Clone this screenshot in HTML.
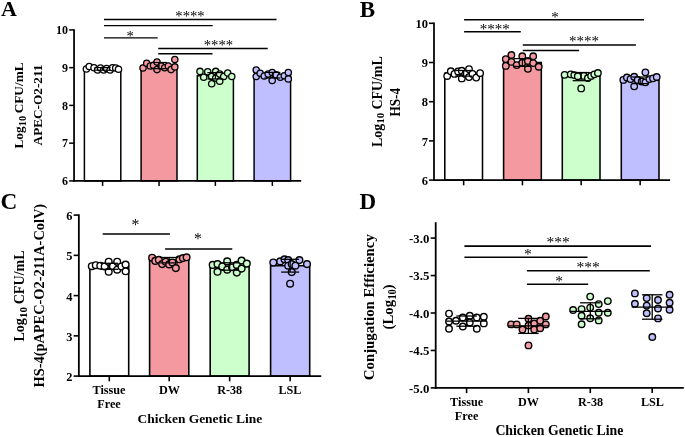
<!DOCTYPE html>
<html><head><meta charset="utf-8"><title>Figure</title>
<style>
html,body{margin:0;padding:0;background:#fff;}
svg{display:block;will-change:transform;font-family:"Liberation Serif","Times New Roman",serif;fill:#000;}
</style></head><body>
<svg width="685" height="437" viewBox="0 0 685 437">
<rect width="685" height="437" fill="#fff"/>
<text x="1.10" y="16.10" font-size="22" font-weight="bold" text-anchor="start" >A</text>
<rect x="84.40" y="68.90" width="36.40" height="112.00" fill="#FFFFFF" stroke="#000" stroke-width="1.5"/>
<rect x="141.10" y="65.60" width="35.90" height="115.30" fill="#F4999F" stroke="#000" stroke-width="1.5"/>
<rect x="197.30" y="75.80" width="36.10" height="105.10" fill="#CCFFCC" stroke="#000" stroke-width="1.5"/>
<rect x="254.10" y="75.20" width="36.50" height="105.70" fill="#BFBFFF" stroke="#000" stroke-width="1.5"/>
<line x1="74.05" y1="29.15" x2="74.05" y2="181.75" stroke="#000" stroke-width="1.75" stroke-linecap="butt"/>
<line x1="73.15" y1="180.90" x2="301.20" y2="180.90" stroke="#000" stroke-width="1.65" stroke-linecap="butt"/>
<line x1="69.15" y1="180.90" x2="74.05" y2="180.90" stroke="#000" stroke-width="1.5" stroke-linecap="butt"/>
<text x="68.00" y="185.10" font-size="12" font-weight="bold" text-anchor="end" >6</text>
<line x1="69.15" y1="143.15" x2="74.05" y2="143.15" stroke="#000" stroke-width="1.5" stroke-linecap="butt"/>
<text x="68.00" y="147.35" font-size="12" font-weight="bold" text-anchor="end" >7</text>
<line x1="69.15" y1="105.40" x2="74.05" y2="105.40" stroke="#000" stroke-width="1.5" stroke-linecap="butt"/>
<text x="68.00" y="109.60" font-size="12" font-weight="bold" text-anchor="end" >8</text>
<line x1="69.15" y1="67.65" x2="74.05" y2="67.65" stroke="#000" stroke-width="1.5" stroke-linecap="butt"/>
<text x="68.00" y="71.85" font-size="12" font-weight="bold" text-anchor="end" >9</text>
<line x1="69.15" y1="29.90" x2="74.05" y2="29.90" stroke="#000" stroke-width="1.5" stroke-linecap="butt"/>
<text x="68.00" y="34.10" font-size="12" font-weight="bold" text-anchor="end" >10</text>
<line x1="102.60" y1="180.90" x2="102.60" y2="185.90" stroke="#000" stroke-width="1.5" stroke-linecap="butt"/>
<line x1="159.05" y1="180.90" x2="159.05" y2="185.90" stroke="#000" stroke-width="1.5" stroke-linecap="butt"/>
<line x1="215.35" y1="180.90" x2="215.35" y2="185.90" stroke="#000" stroke-width="1.5" stroke-linecap="butt"/>
<line x1="272.35" y1="180.90" x2="272.35" y2="185.90" stroke="#000" stroke-width="1.5" stroke-linecap="butt"/>
<circle cx="86.40" cy="69.00" r="3.15" fill="#FFFFFF" stroke="#000" stroke-width="1.3"/>
<circle cx="89.20" cy="66.50" r="3.15" fill="#FFFFFF" stroke="#000" stroke-width="1.3"/>
<circle cx="94.00" cy="67.70" r="3.15" fill="#FFFFFF" stroke="#000" stroke-width="1.3"/>
<circle cx="97.60" cy="70.00" r="3.15" fill="#FFFFFF" stroke="#000" stroke-width="1.3"/>
<circle cx="100.50" cy="68.00" r="3.15" fill="#FFFFFF" stroke="#000" stroke-width="1.3"/>
<circle cx="103.70" cy="70.00" r="3.15" fill="#FFFFFF" stroke="#000" stroke-width="1.3"/>
<circle cx="106.60" cy="68.50" r="3.15" fill="#FFFFFF" stroke="#000" stroke-width="1.3"/>
<circle cx="110.10" cy="70.00" r="3.15" fill="#FFFFFF" stroke="#000" stroke-width="1.3"/>
<circle cx="112.50" cy="67.70" r="3.15" fill="#FFFFFF" stroke="#000" stroke-width="1.3"/>
<circle cx="115.70" cy="68.00" r="3.15" fill="#FFFFFF" stroke="#000" stroke-width="1.3"/>
<circle cx="118.50" cy="69.30" r="3.15" fill="#FFFFFF" stroke="#000" stroke-width="1.3"/>
<line x1="102.60" y1="67.60" x2="102.60" y2="70.20" stroke="#000" stroke-width="1.2" stroke-linecap="butt"/>
<line x1="94.60" y1="67.60" x2="110.60" y2="67.60" stroke="#000" stroke-width="1.2" stroke-linecap="butt"/>
<line x1="94.60" y1="70.20" x2="110.60" y2="70.20" stroke="#000" stroke-width="1.2" stroke-linecap="butt"/>
<circle cx="143.00" cy="68.00" r="3.15" fill="#F4999F" stroke="#000" stroke-width="1.3"/>
<circle cx="146.70" cy="63.30" r="3.15" fill="#F4999F" stroke="#000" stroke-width="1.3"/>
<circle cx="150.30" cy="66.00" r="3.15" fill="#F4999F" stroke="#000" stroke-width="1.3"/>
<circle cx="153.50" cy="65.30" r="3.15" fill="#F4999F" stroke="#000" stroke-width="1.3"/>
<circle cx="157.00" cy="62.00" r="3.15" fill="#F4999F" stroke="#000" stroke-width="1.3"/>
<circle cx="157.00" cy="69.60" r="3.15" fill="#F4999F" stroke="#000" stroke-width="1.3"/>
<circle cx="161.20" cy="66.00" r="3.15" fill="#F4999F" stroke="#000" stroke-width="1.3"/>
<circle cx="164.70" cy="67.70" r="3.15" fill="#F4999F" stroke="#000" stroke-width="1.3"/>
<circle cx="168.30" cy="66.00" r="3.15" fill="#F4999F" stroke="#000" stroke-width="1.3"/>
<circle cx="171.10" cy="69.60" r="3.15" fill="#F4999F" stroke="#000" stroke-width="1.3"/>
<circle cx="174.80" cy="59.60" r="3.15" fill="#F4999F" stroke="#000" stroke-width="1.3"/>
<circle cx="174.80" cy="66.90" r="3.15" fill="#F4999F" stroke="#000" stroke-width="1.3"/>
<line x1="159.05" y1="62.50" x2="159.05" y2="68.70" stroke="#000" stroke-width="1.2" stroke-linecap="butt"/>
<line x1="151.05" y1="62.50" x2="167.05" y2="62.50" stroke="#000" stroke-width="1.2" stroke-linecap="butt"/>
<line x1="151.05" y1="68.70" x2="167.05" y2="68.70" stroke="#000" stroke-width="1.2" stroke-linecap="butt"/>
<circle cx="200.00" cy="71.40" r="3.15" fill="#CCFFCC" stroke="#000" stroke-width="1.3"/>
<circle cx="203.70" cy="77.30" r="3.15" fill="#CCFFCC" stroke="#000" stroke-width="1.3"/>
<circle cx="207.70" cy="71.70" r="3.15" fill="#CCFFCC" stroke="#000" stroke-width="1.3"/>
<circle cx="211.70" cy="76.50" r="3.15" fill="#CCFFCC" stroke="#000" stroke-width="1.3"/>
<circle cx="211.70" cy="83.70" r="3.15" fill="#CCFFCC" stroke="#000" stroke-width="1.3"/>
<circle cx="215.70" cy="71.40" r="3.15" fill="#CCFFCC" stroke="#000" stroke-width="1.3"/>
<circle cx="215.70" cy="78.10" r="3.15" fill="#CCFFCC" stroke="#000" stroke-width="1.3"/>
<circle cx="219.70" cy="74.10" r="3.15" fill="#CCFFCC" stroke="#000" stroke-width="1.3"/>
<circle cx="219.70" cy="81.30" r="3.15" fill="#CCFFCC" stroke="#000" stroke-width="1.3"/>
<circle cx="223.70" cy="76.50" r="3.15" fill="#CCFFCC" stroke="#000" stroke-width="1.3"/>
<circle cx="227.70" cy="73.00" r="3.15" fill="#CCFFCC" stroke="#000" stroke-width="1.3"/>
<circle cx="231.80" cy="76.50" r="3.15" fill="#CCFFCC" stroke="#000" stroke-width="1.3"/>
<line x1="215.35" y1="72.60" x2="215.35" y2="79.00" stroke="#000" stroke-width="1.2" stroke-linecap="butt"/>
<line x1="207.35" y1="72.60" x2="223.35" y2="72.60" stroke="#000" stroke-width="1.2" stroke-linecap="butt"/>
<line x1="207.35" y1="79.00" x2="223.35" y2="79.00" stroke="#000" stroke-width="1.2" stroke-linecap="butt"/>
<circle cx="256.20" cy="70.00" r="3.15" fill="#BFBFFF" stroke="#000" stroke-width="1.3"/>
<circle cx="256.20" cy="76.50" r="3.15" fill="#BFBFFF" stroke="#000" stroke-width="1.3"/>
<circle cx="260.20" cy="73.30" r="3.15" fill="#BFBFFF" stroke="#000" stroke-width="1.3"/>
<circle cx="264.20" cy="76.00" r="3.15" fill="#BFBFFF" stroke="#000" stroke-width="1.3"/>
<circle cx="268.20" cy="74.10" r="3.15" fill="#BFBFFF" stroke="#000" stroke-width="1.3"/>
<circle cx="272.20" cy="72.50" r="3.15" fill="#BFBFFF" stroke="#000" stroke-width="1.3"/>
<circle cx="272.20" cy="80.50" r="3.15" fill="#BFBFFF" stroke="#000" stroke-width="1.3"/>
<circle cx="276.20" cy="74.90" r="3.15" fill="#BFBFFF" stroke="#000" stroke-width="1.3"/>
<circle cx="280.30" cy="77.30" r="3.15" fill="#BFBFFF" stroke="#000" stroke-width="1.3"/>
<circle cx="284.30" cy="75.70" r="3.15" fill="#BFBFFF" stroke="#000" stroke-width="1.3"/>
<circle cx="288.30" cy="72.50" r="3.15" fill="#BFBFFF" stroke="#000" stroke-width="1.3"/>
<circle cx="288.30" cy="78.90" r="3.15" fill="#BFBFFF" stroke="#000" stroke-width="1.3"/>
<line x1="272.35" y1="72.40" x2="272.35" y2="78.00" stroke="#000" stroke-width="1.2" stroke-linecap="butt"/>
<line x1="264.35" y1="72.40" x2="280.35" y2="72.40" stroke="#000" stroke-width="1.2" stroke-linecap="butt"/>
<line x1="264.35" y1="78.00" x2="280.35" y2="78.00" stroke="#000" stroke-width="1.2" stroke-linecap="butt"/>
<line x1="104.00" y1="19.50" x2="276.50" y2="19.50" stroke="#000" stroke-width="1.4" stroke-linecap="butt"/>
<line x1="104.00" y1="25.60" x2="212.70" y2="25.60" stroke="#000" stroke-width="1.4" stroke-linecap="butt"/>
<line x1="104.00" y1="37.90" x2="157.70" y2="37.90" stroke="#000" stroke-width="1.4" stroke-linecap="butt"/>
<line x1="158.20" y1="48.50" x2="267.70" y2="48.50" stroke="#000" stroke-width="1.4" stroke-linecap="butt"/>
<line x1="158.20" y1="53.80" x2="212.50" y2="53.80" stroke="#000" stroke-width="1.4" stroke-linecap="butt"/>
<text x="190.00" y="21.38" font-size="14.7" font-weight="normal" text-anchor="middle" >****</text>
<text x="218.40" y="50.28" font-size="14.7" font-weight="normal" text-anchor="middle" >****</text>
<text x="130.10" y="40.88" font-size="14.7" font-weight="normal" text-anchor="middle" >*</text>
<text transform="translate(23.00,148.50) rotate(-90)" font-size="13.3" font-weight="bold" text-anchor="start" >Log</text>
<text transform="translate(25.66,126.16) rotate(-90)" font-size="10.374" font-weight="bold" text-anchor="start" >10</text>
<text transform="translate(23.00,62.40) rotate(-90)" font-size="13.3" font-weight="bold" text-anchor="end" >CFU/mL</text>
<text transform="translate(41.50,105.00) rotate(-90)" font-size="13.3" font-weight="bold" text-anchor="middle" textLength="80.8" lengthAdjust="spacingAndGlyphs">APEC-O2-211</text>
<text x="359.70" y="16.70" font-size="23" font-weight="bold" text-anchor="start" >B</text>
<rect x="444.80" y="73.30" width="37.70" height="106.80" fill="#FFFFFF" stroke="#000" stroke-width="1.55"/>
<rect x="503.60" y="62.50" width="37.70" height="117.60" fill="#F4999F" stroke="#000" stroke-width="1.55"/>
<rect x="562.30" y="76.20" width="37.70" height="103.90" fill="#CCFFCC" stroke="#000" stroke-width="1.55"/>
<rect x="621.30" y="80.30" width="37.70" height="99.80" fill="#BFBFFF" stroke="#000" stroke-width="1.55"/>
<line x1="434.00" y1="22.55" x2="434.00" y2="180.95" stroke="#000" stroke-width="1.75" stroke-linecap="butt"/>
<line x1="433.10" y1="180.10" x2="670.10" y2="180.10" stroke="#000" stroke-width="1.7" stroke-linecap="butt"/>
<line x1="429.00" y1="180.10" x2="434.00" y2="180.10" stroke="#000" stroke-width="1.55" stroke-linecap="butt"/>
<text x="428.00" y="184.70" font-size="12.5" font-weight="bold" text-anchor="end" >6</text>
<line x1="429.00" y1="140.90" x2="434.00" y2="140.90" stroke="#000" stroke-width="1.55" stroke-linecap="butt"/>
<text x="428.00" y="145.50" font-size="12.5" font-weight="bold" text-anchor="end" >7</text>
<line x1="429.00" y1="101.70" x2="434.00" y2="101.70" stroke="#000" stroke-width="1.55" stroke-linecap="butt"/>
<text x="428.00" y="106.30" font-size="12.5" font-weight="bold" text-anchor="end" >8</text>
<line x1="429.00" y1="62.50" x2="434.00" y2="62.50" stroke="#000" stroke-width="1.55" stroke-linecap="butt"/>
<text x="428.00" y="67.10" font-size="12.5" font-weight="bold" text-anchor="end" >9</text>
<line x1="429.00" y1="23.30" x2="434.00" y2="23.30" stroke="#000" stroke-width="1.55" stroke-linecap="butt"/>
<text x="428.00" y="27.90" font-size="12.5" font-weight="bold" text-anchor="end" >10</text>
<line x1="463.65" y1="180.10" x2="463.65" y2="185.30" stroke="#000" stroke-width="1.55" stroke-linecap="butt"/>
<line x1="522.45" y1="180.10" x2="522.45" y2="185.30" stroke="#000" stroke-width="1.55" stroke-linecap="butt"/>
<line x1="581.15" y1="180.10" x2="581.15" y2="185.30" stroke="#000" stroke-width="1.55" stroke-linecap="butt"/>
<line x1="640.15" y1="180.10" x2="640.15" y2="185.30" stroke="#000" stroke-width="1.55" stroke-linecap="butt"/>
<circle cx="447.20" cy="76.00" r="3.25" fill="#FFFFFF" stroke="#000" stroke-width="1.35"/>
<circle cx="450.80" cy="71.20" r="3.25" fill="#FFFFFF" stroke="#000" stroke-width="1.35"/>
<circle cx="454.50" cy="73.90" r="3.25" fill="#FFFFFF" stroke="#000" stroke-width="1.35"/>
<circle cx="458.10" cy="71.50" r="3.25" fill="#FFFFFF" stroke="#000" stroke-width="1.35"/>
<circle cx="461.80" cy="70.70" r="3.25" fill="#FFFFFF" stroke="#000" stroke-width="1.35"/>
<circle cx="461.80" cy="78.40" r="3.25" fill="#FFFFFF" stroke="#000" stroke-width="1.35"/>
<circle cx="465.30" cy="73.90" r="3.25" fill="#FFFFFF" stroke="#000" stroke-width="1.35"/>
<circle cx="469.00" cy="69.10" r="3.25" fill="#FFFFFF" stroke="#000" stroke-width="1.35"/>
<circle cx="469.00" cy="77.10" r="3.25" fill="#FFFFFF" stroke="#000" stroke-width="1.35"/>
<circle cx="472.50" cy="73.90" r="3.25" fill="#FFFFFF" stroke="#000" stroke-width="1.35"/>
<circle cx="476.20" cy="77.60" r="3.25" fill="#FFFFFF" stroke="#000" stroke-width="1.35"/>
<circle cx="480.10" cy="73.10" r="3.25" fill="#FFFFFF" stroke="#000" stroke-width="1.35"/>
<line x1="463.65" y1="70.50" x2="463.65" y2="76.10" stroke="#000" stroke-width="1.25" stroke-linecap="butt"/>
<line x1="455.15" y1="70.50" x2="472.15" y2="70.50" stroke="#000" stroke-width="1.25" stroke-linecap="butt"/>
<line x1="455.15" y1="76.10" x2="472.15" y2="76.10" stroke="#000" stroke-width="1.25" stroke-linecap="butt"/>
<circle cx="505.80" cy="59.10" r="3.25" fill="#F4999F" stroke="#000" stroke-width="1.35"/>
<circle cx="505.80" cy="65.90" r="3.25" fill="#F4999F" stroke="#000" stroke-width="1.35"/>
<circle cx="511.40" cy="55.00" r="3.25" fill="#F4999F" stroke="#000" stroke-width="1.35"/>
<circle cx="511.40" cy="61.90" r="3.25" fill="#F4999F" stroke="#000" stroke-width="1.35"/>
<circle cx="516.70" cy="65.10" r="3.25" fill="#F4999F" stroke="#000" stroke-width="1.35"/>
<circle cx="522.30" cy="56.20" r="3.25" fill="#F4999F" stroke="#000" stroke-width="1.35"/>
<circle cx="522.30" cy="62.70" r="3.25" fill="#F4999F" stroke="#000" stroke-width="1.35"/>
<circle cx="527.90" cy="61.00" r="3.25" fill="#F4999F" stroke="#000" stroke-width="1.35"/>
<circle cx="527.90" cy="68.80" r="3.25" fill="#F4999F" stroke="#000" stroke-width="1.35"/>
<circle cx="533.20" cy="56.20" r="3.25" fill="#F4999F" stroke="#000" stroke-width="1.35"/>
<circle cx="533.20" cy="63.10" r="3.25" fill="#F4999F" stroke="#000" stroke-width="1.35"/>
<circle cx="538.70" cy="66.70" r="3.25" fill="#F4999F" stroke="#000" stroke-width="1.35"/>
<line x1="522.45" y1="58.60" x2="522.45" y2="66.40" stroke="#000" stroke-width="1.25" stroke-linecap="butt"/>
<line x1="513.95" y1="58.60" x2="530.95" y2="58.60" stroke="#000" stroke-width="1.25" stroke-linecap="butt"/>
<line x1="513.95" y1="66.40" x2="530.95" y2="66.40" stroke="#000" stroke-width="1.25" stroke-linecap="butt"/>
<circle cx="564.60" cy="74.80" r="3.25" fill="#CCFFCC" stroke="#000" stroke-width="1.35"/>
<circle cx="570.70" cy="74.30" r="3.25" fill="#CCFFCC" stroke="#000" stroke-width="1.35"/>
<circle cx="574.30" cy="75.10" r="3.25" fill="#CCFFCC" stroke="#000" stroke-width="1.35"/>
<circle cx="577.80" cy="76.20" r="3.25" fill="#CCFFCC" stroke="#000" stroke-width="1.35"/>
<circle cx="581.20" cy="88.40" r="3.25" fill="#CCFFCC" stroke="#000" stroke-width="1.35"/>
<circle cx="583.90" cy="75.90" r="3.25" fill="#CCFFCC" stroke="#000" stroke-width="1.35"/>
<circle cx="587.90" cy="78.00" r="3.25" fill="#CCFFCC" stroke="#000" stroke-width="1.35"/>
<circle cx="591.10" cy="75.90" r="3.25" fill="#CCFFCC" stroke="#000" stroke-width="1.35"/>
<circle cx="594.30" cy="74.30" r="3.25" fill="#CCFFCC" stroke="#000" stroke-width="1.35"/>
<circle cx="597.90" cy="73.00" r="3.25" fill="#CCFFCC" stroke="#000" stroke-width="1.35"/>
<line x1="581.15" y1="72.50" x2="581.15" y2="80.70" stroke="#000" stroke-width="1.25" stroke-linecap="butt"/>
<line x1="572.65" y1="72.50" x2="589.65" y2="72.50" stroke="#000" stroke-width="1.25" stroke-linecap="butt"/>
<line x1="572.65" y1="80.70" x2="589.65" y2="80.70" stroke="#000" stroke-width="1.25" stroke-linecap="butt"/>
<circle cx="623.30" cy="79.90" r="3.25" fill="#BFBFFF" stroke="#000" stroke-width="1.35"/>
<circle cx="626.90" cy="77.50" r="3.25" fill="#BFBFFF" stroke="#000" stroke-width="1.35"/>
<circle cx="630.50" cy="79.10" r="3.25" fill="#BFBFFF" stroke="#000" stroke-width="1.35"/>
<circle cx="634.20" cy="76.70" r="3.25" fill="#BFBFFF" stroke="#000" stroke-width="1.35"/>
<circle cx="634.20" cy="86.30" r="3.25" fill="#BFBFFF" stroke="#000" stroke-width="1.35"/>
<circle cx="637.70" cy="79.90" r="3.25" fill="#BFBFFF" stroke="#000" stroke-width="1.35"/>
<circle cx="641.70" cy="81.50" r="3.25" fill="#BFBFFF" stroke="#000" stroke-width="1.35"/>
<circle cx="645.40" cy="72.30" r="3.25" fill="#BFBFFF" stroke="#000" stroke-width="1.35"/>
<circle cx="645.40" cy="82.30" r="3.25" fill="#BFBFFF" stroke="#000" stroke-width="1.35"/>
<circle cx="649.40" cy="79.10" r="3.25" fill="#BFBFFF" stroke="#000" stroke-width="1.35"/>
<circle cx="653.00" cy="78.30" r="3.25" fill="#BFBFFF" stroke="#000" stroke-width="1.35"/>
<circle cx="656.70" cy="77.00" r="3.25" fill="#BFBFFF" stroke="#000" stroke-width="1.35"/>
<line x1="640.15" y1="77.00" x2="640.15" y2="83.60" stroke="#000" stroke-width="1.25" stroke-linecap="butt"/>
<line x1="631.65" y1="77.00" x2="648.65" y2="77.00" stroke="#000" stroke-width="1.25" stroke-linecap="butt"/>
<line x1="631.65" y1="83.60" x2="648.65" y2="83.60" stroke="#000" stroke-width="1.25" stroke-linecap="butt"/>
<line x1="464.10" y1="19.75" x2="644.00" y2="19.75" stroke="#000" stroke-width="1.5" stroke-linecap="butt"/>
<line x1="464.10" y1="31.75" x2="520.80" y2="31.75" stroke="#000" stroke-width="1.5" stroke-linecap="butt"/>
<line x1="522.80" y1="45.00" x2="635.90" y2="45.00" stroke="#000" stroke-width="1.5" stroke-linecap="butt"/>
<line x1="522.80" y1="50.60" x2="579.10" y2="50.60" stroke="#000" stroke-width="1.5" stroke-linecap="butt"/>
<text x="555.10" y="22.07" font-size="15" font-weight="normal" text-anchor="middle" >*</text>
<text x="494.85" y="34.27" font-size="15" font-weight="normal" text-anchor="middle" >****</text>
<text x="583.90" y="46.33" font-size="15" font-weight="normal" text-anchor="middle" >****</text>
<text transform="translate(381.50,146.90) rotate(-90)" font-size="13.9" font-weight="bold" text-anchor="start" >Log</text>
<text transform="translate(384.28,123.55) rotate(-90)" font-size="10.842" font-weight="bold" text-anchor="start" >10</text>
<text transform="translate(381.50,56.30) rotate(-90)" font-size="13.9" font-weight="bold" text-anchor="end" >CFU/mL</text>
<text transform="translate(400.40,102.20) rotate(-90)" font-size="13.9" font-weight="bold" text-anchor="middle" textLength="28.6" lengthAdjust="spacingAndGlyphs">HS-4</text>
<text x="0.50" y="209.30" font-size="23.2" font-weight="bold" text-anchor="start" >C</text>
<rect x="89.90" y="266.30" width="38.80" height="109.80" fill="#FFFFFF" stroke="#000" stroke-width="1.6"/>
<rect x="149.60" y="260.20" width="39.20" height="115.90" fill="#F4999F" stroke="#000" stroke-width="1.6"/>
<rect x="210.20" y="266.50" width="38.90" height="109.60" fill="#CCFFCC" stroke="#000" stroke-width="1.6"/>
<rect x="270.60" y="265.70" width="39.10" height="110.40" fill="#BFBFFF" stroke="#000" stroke-width="1.6"/>
<line x1="78.85" y1="214.30" x2="78.85" y2="376.95" stroke="#000" stroke-width="1.8" stroke-linecap="butt"/>
<line x1="77.95" y1="376.10" x2="321.20" y2="376.10" stroke="#000" stroke-width="1.75" stroke-linecap="butt"/>
<line x1="73.65" y1="376.10" x2="78.85" y2="376.10" stroke="#000" stroke-width="1.6" stroke-linecap="butt"/>
<text x="72.40" y="381.10" font-size="12.4" font-weight="bold" text-anchor="end" >2</text>
<line x1="73.65" y1="335.85" x2="78.85" y2="335.85" stroke="#000" stroke-width="1.6" stroke-linecap="butt"/>
<text x="72.40" y="340.85" font-size="12.4" font-weight="bold" text-anchor="end" >3</text>
<line x1="73.65" y1="295.60" x2="78.85" y2="295.60" stroke="#000" stroke-width="1.6" stroke-linecap="butt"/>
<text x="72.40" y="300.60" font-size="12.4" font-weight="bold" text-anchor="end" >4</text>
<line x1="73.65" y1="255.35" x2="78.85" y2="255.35" stroke="#000" stroke-width="1.6" stroke-linecap="butt"/>
<text x="72.40" y="260.35" font-size="12.4" font-weight="bold" text-anchor="end" >5</text>
<line x1="73.65" y1="215.10" x2="78.85" y2="215.10" stroke="#000" stroke-width="1.6" stroke-linecap="butt"/>
<text x="72.40" y="220.10" font-size="12.4" font-weight="bold" text-anchor="end" >6</text>
<line x1="109.30" y1="376.10" x2="109.30" y2="381.30" stroke="#000" stroke-width="1.6" stroke-linecap="butt"/>
<line x1="169.20" y1="376.10" x2="169.20" y2="381.30" stroke="#000" stroke-width="1.6" stroke-linecap="butt"/>
<line x1="229.65" y1="376.10" x2="229.65" y2="381.30" stroke="#000" stroke-width="1.6" stroke-linecap="butt"/>
<line x1="290.15" y1="376.10" x2="290.15" y2="381.30" stroke="#000" stroke-width="1.6" stroke-linecap="butt"/>
<circle cx="91.80" cy="266.20" r="3.35" fill="#FFFFFF" stroke="#000" stroke-width="1.4"/>
<circle cx="95.80" cy="265.20" r="3.35" fill="#FFFFFF" stroke="#000" stroke-width="1.4"/>
<circle cx="100.30" cy="265.70" r="3.35" fill="#FFFFFF" stroke="#000" stroke-width="1.4"/>
<circle cx="104.70" cy="266.50" r="3.35" fill="#FFFFFF" stroke="#000" stroke-width="1.4"/>
<circle cx="108.70" cy="261.70" r="3.35" fill="#FFFFFF" stroke="#000" stroke-width="1.4"/>
<circle cx="108.70" cy="271.80" r="3.35" fill="#FFFFFF" stroke="#000" stroke-width="1.4"/>
<circle cx="113.00" cy="266.20" r="3.35" fill="#FFFFFF" stroke="#000" stroke-width="1.4"/>
<circle cx="117.20" cy="261.70" r="3.35" fill="#FFFFFF" stroke="#000" stroke-width="1.4"/>
<circle cx="117.20" cy="269.70" r="3.35" fill="#FFFFFF" stroke="#000" stroke-width="1.4"/>
<circle cx="121.50" cy="266.50" r="3.35" fill="#FFFFFF" stroke="#000" stroke-width="1.4"/>
<circle cx="125.60" cy="264.60" r="3.35" fill="#FFFFFF" stroke="#000" stroke-width="1.4"/>
<circle cx="125.60" cy="271.30" r="3.35" fill="#FFFFFF" stroke="#000" stroke-width="1.4"/>
<line x1="109.30" y1="263.30" x2="109.30" y2="269.30" stroke="#000" stroke-width="1.3" stroke-linecap="butt"/>
<line x1="100.30" y1="263.30" x2="118.30" y2="263.30" stroke="#000" stroke-width="1.3" stroke-linecap="butt"/>
<line x1="100.30" y1="269.30" x2="118.30" y2="269.30" stroke="#000" stroke-width="1.3" stroke-linecap="butt"/>
<circle cx="152.10" cy="257.70" r="3.35" fill="#F4999F" stroke="#000" stroke-width="1.4"/>
<circle cx="155.30" cy="260.90" r="3.35" fill="#F4999F" stroke="#000" stroke-width="1.4"/>
<circle cx="158.80" cy="259.80" r="3.35" fill="#F4999F" stroke="#000" stroke-width="1.4"/>
<circle cx="162.20" cy="264.10" r="3.35" fill="#F4999F" stroke="#000" stroke-width="1.4"/>
<circle cx="165.70" cy="261.70" r="3.35" fill="#F4999F" stroke="#000" stroke-width="1.4"/>
<circle cx="169.20" cy="264.40" r="3.35" fill="#F4999F" stroke="#000" stroke-width="1.4"/>
<circle cx="172.40" cy="262.50" r="3.35" fill="#F4999F" stroke="#000" stroke-width="1.4"/>
<circle cx="175.80" cy="268.10" r="3.35" fill="#F4999F" stroke="#000" stroke-width="1.4"/>
<circle cx="179.40" cy="259.30" r="3.35" fill="#F4999F" stroke="#000" stroke-width="1.4"/>
<circle cx="182.90" cy="258.10" r="3.35" fill="#F4999F" stroke="#000" stroke-width="1.4"/>
<circle cx="186.60" cy="257.30" r="3.35" fill="#F4999F" stroke="#000" stroke-width="1.4"/>
<line x1="169.20" y1="257.50" x2="169.20" y2="262.90" stroke="#000" stroke-width="1.3" stroke-linecap="butt"/>
<line x1="160.20" y1="257.50" x2="178.20" y2="257.50" stroke="#000" stroke-width="1.3" stroke-linecap="butt"/>
<line x1="160.20" y1="262.90" x2="178.20" y2="262.90" stroke="#000" stroke-width="1.3" stroke-linecap="butt"/>
<circle cx="212.70" cy="264.90" r="3.35" fill="#CCFFCC" stroke="#000" stroke-width="1.4"/>
<circle cx="217.50" cy="264.10" r="3.35" fill="#CCFFCC" stroke="#000" stroke-width="1.4"/>
<circle cx="217.50" cy="271.80" r="3.35" fill="#CCFFCC" stroke="#000" stroke-width="1.4"/>
<circle cx="222.30" cy="266.50" r="3.35" fill="#CCFFCC" stroke="#000" stroke-width="1.4"/>
<circle cx="227.20" cy="261.40" r="3.35" fill="#CCFFCC" stroke="#000" stroke-width="1.4"/>
<circle cx="227.20" cy="269.70" r="3.35" fill="#CCFFCC" stroke="#000" stroke-width="1.4"/>
<circle cx="232.00" cy="267.30" r="3.35" fill="#CCFFCC" stroke="#000" stroke-width="1.4"/>
<circle cx="236.80" cy="264.90" r="3.35" fill="#CCFFCC" stroke="#000" stroke-width="1.4"/>
<circle cx="236.80" cy="272.60" r="3.35" fill="#CCFFCC" stroke="#000" stroke-width="1.4"/>
<circle cx="241.60" cy="260.60" r="3.35" fill="#CCFFCC" stroke="#000" stroke-width="1.4"/>
<circle cx="241.60" cy="268.60" r="3.35" fill="#CCFFCC" stroke="#000" stroke-width="1.4"/>
<circle cx="246.80" cy="263.60" r="3.35" fill="#CCFFCC" stroke="#000" stroke-width="1.4"/>
<line x1="229.65" y1="262.80" x2="229.65" y2="270.20" stroke="#000" stroke-width="1.3" stroke-linecap="butt"/>
<line x1="220.65" y1="262.80" x2="238.65" y2="262.80" stroke="#000" stroke-width="1.3" stroke-linecap="butt"/>
<line x1="220.65" y1="270.20" x2="238.65" y2="270.20" stroke="#000" stroke-width="1.3" stroke-linecap="butt"/>
<circle cx="273.30" cy="262.50" r="3.35" fill="#BFBFFF" stroke="#000" stroke-width="1.4"/>
<circle cx="280.20" cy="261.40" r="3.35" fill="#BFBFFF" stroke="#000" stroke-width="1.4"/>
<circle cx="284.50" cy="259.30" r="3.35" fill="#BFBFFF" stroke="#000" stroke-width="1.4"/>
<circle cx="288.20" cy="260.10" r="3.35" fill="#BFBFFF" stroke="#000" stroke-width="1.4"/>
<circle cx="288.20" cy="265.70" r="3.35" fill="#BFBFFF" stroke="#000" stroke-width="1.4"/>
<circle cx="291.70" cy="264.10" r="3.35" fill="#BFBFFF" stroke="#000" stroke-width="1.4"/>
<circle cx="291.70" cy="272.10" r="3.35" fill="#BFBFFF" stroke="#000" stroke-width="1.4"/>
<circle cx="295.40" cy="265.70" r="3.35" fill="#BFBFFF" stroke="#000" stroke-width="1.4"/>
<circle cx="299.40" cy="260.10" r="3.35" fill="#BFBFFF" stroke="#000" stroke-width="1.4"/>
<circle cx="307.00" cy="264.10" r="3.35" fill="#BFBFFF" stroke="#000" stroke-width="1.4"/>
<circle cx="290.10" cy="283.70" r="3.35" fill="#BFBFFF" stroke="#000" stroke-width="1.4"/>
<line x1="290.15" y1="259.30" x2="290.15" y2="272.10" stroke="#000" stroke-width="1.3" stroke-linecap="butt"/>
<line x1="281.15" y1="259.30" x2="299.15" y2="259.30" stroke="#000" stroke-width="1.3" stroke-linecap="butt"/>
<line x1="281.15" y1="272.10" x2="299.15" y2="272.10" stroke="#000" stroke-width="1.3" stroke-linecap="butt"/>
<line x1="102.70" y1="234.00" x2="169.90" y2="234.00" stroke="#000" stroke-width="1.55" stroke-linecap="butt"/>
<line x1="165.10" y1="249.00" x2="232.30" y2="249.00" stroke="#000" stroke-width="1.55" stroke-linecap="butt"/>
<text x="135.50" y="229.50" font-size="15.8" font-weight="normal" text-anchor="middle" >*</text>
<text x="197.90" y="244.25" font-size="15.8" font-weight="normal" text-anchor="middle" >*</text>
<text x="109.00" y="393.90" font-size="12.2" font-weight="bold" text-anchor="middle" >Tissue</text>
<text x="169.40" y="393.90" font-size="12.2" font-weight="bold" text-anchor="middle" >DW</text>
<text x="229.70" y="393.90" font-size="12.2" font-weight="bold" text-anchor="middle" >R-38</text>
<text x="289.90" y="393.90" font-size="12.2" font-weight="bold" text-anchor="middle" >LSL</text>
<text x="109.00" y="407.80" font-size="12.2" font-weight="bold" text-anchor="middle" >Free</text>
<text x="199.90" y="422.70" font-size="13.45" font-weight="bold" text-anchor="middle" >Chicken Genetic Line</text>
<text transform="translate(24.10,341.60) rotate(-90)" font-size="14.1" font-weight="bold" text-anchor="start" >Log</text>
<text transform="translate(26.92,317.91) rotate(-90)" font-size="10.998" font-weight="bold" text-anchor="start" >10</text>
<text transform="translate(24.10,250.30) rotate(-90)" font-size="14.1" font-weight="bold" text-anchor="end" >CFU/mL</text>
<text transform="translate(44.20,295.70) rotate(-90)" font-size="14.1" font-weight="bold" text-anchor="middle" textLength="183.6" lengthAdjust="spacingAndGlyphs">HS-4(pAPEC-O2-211A-ColV)</text>
<text x="359.50" y="209.30" font-size="23" font-weight="bold" text-anchor="start" >D</text>
<line x1="435.70" y1="222.20" x2="435.70" y2="388.75" stroke="#000" stroke-width="1.8" stroke-linecap="butt"/>
<line x1="434.80" y1="387.90" x2="683.80" y2="387.90" stroke="#000" stroke-width="1.75" stroke-linecap="butt"/>
<line x1="430.70" y1="238.10" x2="435.70" y2="238.10" stroke="#000" stroke-width="1.6" stroke-linecap="butt"/>
<text x="429.30" y="243.00" font-size="12.8" font-weight="bold" text-anchor="end" >-3.0</text>
<line x1="430.70" y1="275.55" x2="435.70" y2="275.55" stroke="#000" stroke-width="1.6" stroke-linecap="butt"/>
<text x="429.30" y="280.45" font-size="12.8" font-weight="bold" text-anchor="end" >-3.5</text>
<line x1="430.70" y1="313.00" x2="435.70" y2="313.00" stroke="#000" stroke-width="1.6" stroke-linecap="butt"/>
<text x="429.30" y="317.90" font-size="12.8" font-weight="bold" text-anchor="end" >-4.0</text>
<line x1="430.70" y1="350.45" x2="435.70" y2="350.45" stroke="#000" stroke-width="1.6" stroke-linecap="butt"/>
<text x="429.30" y="355.35" font-size="12.8" font-weight="bold" text-anchor="end" >-4.5</text>
<line x1="430.70" y1="387.90" x2="435.70" y2="387.90" stroke="#000" stroke-width="1.6" stroke-linecap="butt"/>
<text x="429.30" y="392.80" font-size="12.8" font-weight="bold" text-anchor="end" >-5.0</text>
<line x1="466.60" y1="387.90" x2="466.60" y2="393.10" stroke="#000" stroke-width="1.6" stroke-linecap="butt"/>
<line x1="528.40" y1="387.90" x2="528.40" y2="393.10" stroke="#000" stroke-width="1.6" stroke-linecap="butt"/>
<line x1="590.30" y1="387.90" x2="590.30" y2="393.10" stroke="#000" stroke-width="1.6" stroke-linecap="butt"/>
<line x1="652.20" y1="387.90" x2="652.20" y2="393.10" stroke="#000" stroke-width="1.6" stroke-linecap="butt"/>
<circle cx="449.00" cy="313.60" r="3.25" fill="#FFFFFF" stroke="#000" stroke-width="1.4"/>
<circle cx="449.00" cy="321.50" r="3.25" fill="#FFFFFF" stroke="#000" stroke-width="1.4"/>
<circle cx="449.00" cy="328.80" r="3.25" fill="#FFFFFF" stroke="#000" stroke-width="1.4"/>
<circle cx="456.00" cy="320.80" r="3.25" fill="#FFFFFF" stroke="#000" stroke-width="1.4"/>
<circle cx="462.80" cy="317.50" r="3.25" fill="#FFFFFF" stroke="#000" stroke-width="1.4"/>
<circle cx="462.80" cy="326.50" r="3.25" fill="#FFFFFF" stroke="#000" stroke-width="1.4"/>
<circle cx="469.80" cy="315.70" r="3.25" fill="#FFFFFF" stroke="#000" stroke-width="1.4"/>
<circle cx="469.80" cy="322.50" r="3.25" fill="#FFFFFF" stroke="#000" stroke-width="1.4"/>
<circle cx="476.80" cy="317.50" r="3.25" fill="#FFFFFF" stroke="#000" stroke-width="1.4"/>
<circle cx="476.80" cy="328.80" r="3.25" fill="#FFFFFF" stroke="#000" stroke-width="1.4"/>
<circle cx="483.80" cy="316.80" r="3.25" fill="#FFFFFF" stroke="#000" stroke-width="1.4"/>
<circle cx="483.80" cy="323.40" r="3.25" fill="#FFFFFF" stroke="#000" stroke-width="1.4"/>
<line x1="466.60" y1="316.00" x2="466.60" y2="326.20" stroke="#000" stroke-width="1.3" stroke-linecap="butt"/>
<line x1="456.35" y1="316.00" x2="476.85" y2="316.00" stroke="#000" stroke-width="1.3" stroke-linecap="butt"/>
<line x1="456.35" y1="326.20" x2="476.85" y2="326.20" stroke="#000" stroke-width="1.3" stroke-linecap="butt"/>
<line x1="446.10" y1="321.20" x2="487.10" y2="321.20" stroke="#000" stroke-width="1.3" stroke-linecap="butt"/>
<circle cx="511.10" cy="324.40" r="3.25" fill="#F4999F" stroke="#000" stroke-width="1.4"/>
<circle cx="516.70" cy="324.40" r="3.25" fill="#F4999F" stroke="#000" stroke-width="1.4"/>
<circle cx="522.50" cy="329.50" r="3.25" fill="#F4999F" stroke="#000" stroke-width="1.4"/>
<circle cx="528.50" cy="318.80" r="3.25" fill="#F4999F" stroke="#000" stroke-width="1.4"/>
<circle cx="528.50" cy="325.50" r="3.25" fill="#F4999F" stroke="#000" stroke-width="1.4"/>
<circle cx="534.20" cy="323.50" r="3.25" fill="#F4999F" stroke="#000" stroke-width="1.4"/>
<circle cx="534.20" cy="329.50" r="3.25" fill="#F4999F" stroke="#000" stroke-width="1.4"/>
<circle cx="540.20" cy="320.70" r="3.25" fill="#F4999F" stroke="#000" stroke-width="1.4"/>
<circle cx="540.20" cy="328.20" r="3.25" fill="#F4999F" stroke="#000" stroke-width="1.4"/>
<circle cx="545.80" cy="316.50" r="3.25" fill="#F4999F" stroke="#000" stroke-width="1.4"/>
<circle cx="545.80" cy="324.40" r="3.25" fill="#F4999F" stroke="#000" stroke-width="1.4"/>
<circle cx="528.50" cy="345.40" r="3.25" fill="#F4999F" stroke="#000" stroke-width="1.4"/>
<line x1="528.40" y1="318.40" x2="528.40" y2="333.40" stroke="#000" stroke-width="1.3" stroke-linecap="butt"/>
<line x1="518.15" y1="318.40" x2="538.65" y2="318.40" stroke="#000" stroke-width="1.3" stroke-linecap="butt"/>
<line x1="518.15" y1="333.40" x2="538.65" y2="333.40" stroke="#000" stroke-width="1.3" stroke-linecap="butt"/>
<line x1="507.90" y1="325.90" x2="548.90" y2="325.90" stroke="#000" stroke-width="1.3" stroke-linecap="butt"/>
<circle cx="573.10" cy="310.00" r="3.25" fill="#CCFFCC" stroke="#000" stroke-width="1.4"/>
<circle cx="581.60" cy="309.10" r="3.25" fill="#CCFFCC" stroke="#000" stroke-width="1.4"/>
<circle cx="581.60" cy="315.70" r="3.25" fill="#CCFFCC" stroke="#000" stroke-width="1.4"/>
<circle cx="581.60" cy="324.30" r="3.25" fill="#CCFFCC" stroke="#000" stroke-width="1.4"/>
<circle cx="590.20" cy="296.60" r="3.25" fill="#CCFFCC" stroke="#000" stroke-width="1.4"/>
<circle cx="590.20" cy="307.60" r="3.25" fill="#CCFFCC" stroke="#000" stroke-width="1.4"/>
<circle cx="590.20" cy="318.20" r="3.25" fill="#CCFFCC" stroke="#000" stroke-width="1.4"/>
<circle cx="598.70" cy="304.10" r="3.25" fill="#CCFFCC" stroke="#000" stroke-width="1.4"/>
<circle cx="598.70" cy="312.70" r="3.25" fill="#CCFFCC" stroke="#000" stroke-width="1.4"/>
<circle cx="598.70" cy="320.40" r="3.25" fill="#CCFFCC" stroke="#000" stroke-width="1.4"/>
<circle cx="607.80" cy="301.10" r="3.25" fill="#CCFFCC" stroke="#000" stroke-width="1.4"/>
<circle cx="607.80" cy="312.70" r="3.25" fill="#CCFFCC" stroke="#000" stroke-width="1.4"/>
<line x1="590.30" y1="302.80" x2="590.30" y2="318.80" stroke="#000" stroke-width="1.3" stroke-linecap="butt"/>
<line x1="580.05" y1="302.80" x2="600.55" y2="302.80" stroke="#000" stroke-width="1.3" stroke-linecap="butt"/>
<line x1="580.05" y1="318.80" x2="600.55" y2="318.80" stroke="#000" stroke-width="1.3" stroke-linecap="butt"/>
<line x1="569.80" y1="311.30" x2="610.80" y2="311.30" stroke="#000" stroke-width="1.3" stroke-linecap="butt"/>
<circle cx="634.90" cy="293.40" r="3.25" fill="#BFBFFF" stroke="#000" stroke-width="1.4"/>
<circle cx="634.90" cy="303.80" r="3.25" fill="#BFBFFF" stroke="#000" stroke-width="1.4"/>
<circle cx="646.70" cy="298.10" r="3.25" fill="#BFBFFF" stroke="#000" stroke-width="1.4"/>
<circle cx="646.70" cy="305.60" r="3.25" fill="#BFBFFF" stroke="#000" stroke-width="1.4"/>
<circle cx="646.70" cy="313.20" r="3.25" fill="#BFBFFF" stroke="#000" stroke-width="1.4"/>
<circle cx="658.00" cy="300.00" r="3.25" fill="#BFBFFF" stroke="#000" stroke-width="1.4"/>
<circle cx="658.00" cy="308.50" r="3.25" fill="#BFBFFF" stroke="#000" stroke-width="1.4"/>
<circle cx="658.00" cy="318.40" r="3.25" fill="#BFBFFF" stroke="#000" stroke-width="1.4"/>
<circle cx="669.60" cy="294.80" r="3.25" fill="#BFBFFF" stroke="#000" stroke-width="1.4"/>
<circle cx="669.60" cy="302.80" r="3.25" fill="#BFBFFF" stroke="#000" stroke-width="1.4"/>
<circle cx="669.60" cy="309.80" r="3.25" fill="#BFBFFF" stroke="#000" stroke-width="1.4"/>
<circle cx="652.30" cy="337.00" r="3.25" fill="#BFBFFF" stroke="#000" stroke-width="1.4"/>
<line x1="652.20" y1="294.80" x2="652.20" y2="319.20" stroke="#000" stroke-width="1.3" stroke-linecap="butt"/>
<line x1="641.95" y1="294.80" x2="662.45" y2="294.80" stroke="#000" stroke-width="1.3" stroke-linecap="butt"/>
<line x1="641.95" y1="319.20" x2="662.45" y2="319.20" stroke="#000" stroke-width="1.3" stroke-linecap="butt"/>
<line x1="631.70" y1="307.10" x2="672.70" y2="307.10" stroke="#000" stroke-width="1.3" stroke-linecap="butt"/>
<line x1="464.40" y1="246.10" x2="651.00" y2="246.10" stroke="#000" stroke-width="1.55" stroke-linecap="butt"/>
<line x1="464.40" y1="257.20" x2="587.50" y2="257.20" stroke="#000" stroke-width="1.55" stroke-linecap="butt"/>
<line x1="526.90" y1="270.80" x2="649.80" y2="270.80" stroke="#000" stroke-width="1.55" stroke-linecap="butt"/>
<line x1="526.90" y1="284.20" x2="588.20" y2="284.20" stroke="#000" stroke-width="1.55" stroke-linecap="butt"/>
<text x="558.10" y="247.46" font-size="15.5" font-weight="normal" text-anchor="middle" >***</text>
<text x="527.90" y="259.06" font-size="15.5" font-weight="normal" text-anchor="middle" >*</text>
<text x="588.10" y="272.46" font-size="15.5" font-weight="normal" text-anchor="middle" >***</text>
<text x="559.10" y="286.16" font-size="15.5" font-weight="normal" text-anchor="middle" >*</text>
<text x="466.60" y="406.20" font-size="12.2" font-weight="bold" text-anchor="middle" >Tissue</text>
<text x="528.40" y="406.20" font-size="12.2" font-weight="bold" text-anchor="middle" >DW</text>
<text x="590.60" y="406.20" font-size="12.2" font-weight="bold" text-anchor="middle" >R-38</text>
<text x="652.40" y="406.20" font-size="12.2" font-weight="bold" text-anchor="middle" >LSL</text>
<text x="466.60" y="420.30" font-size="12.2" font-weight="bold" text-anchor="middle" >Free</text>
<text x="559.40" y="435.10" font-size="13.8" font-weight="bold" text-anchor="middle" >Chicken Genetic Line</text>
<text transform="translate(374.00,307.20) rotate(-90)" font-size="15.4" font-weight="bold" text-anchor="middle" textLength="146" lengthAdjust="spacingAndGlyphs">Conjugation Efficiency</text>
<text transform="translate(392.80,329.40) rotate(-90)" font-size="15.4" font-weight="bold" text-anchor="start" textLength="29.4" lengthAdjust="spacingAndGlyphs">(Log</text>
<text transform="translate(395.80,299.60) rotate(-90)" font-size="11.704" font-weight="bold" text-anchor="start" textLength="10.4" lengthAdjust="spacingAndGlyphs">10</text>
<text transform="translate(392.80,284.40) rotate(-90)" font-size="15.4" font-weight="bold" text-anchor="end" >)</text>
</svg>
</body></html>
